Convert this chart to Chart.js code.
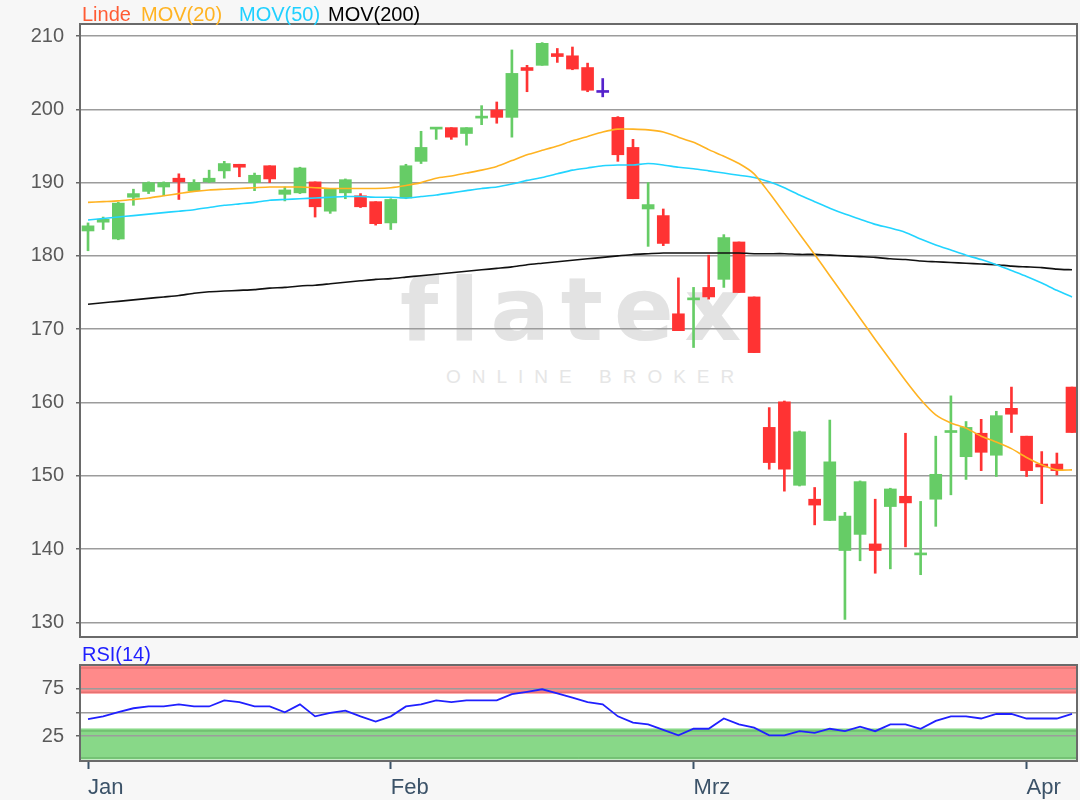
<!DOCTYPE html>
<html>
<head>
<meta charset="utf-8">
<title>Linde</title>
<script src="https://cdn.jsdelivr.net/npm/chart.js@4.4.1/dist/chart.umd.min.js"></script>
<style>
  body { margin: 0; background: #f7f7f7; font-family: "Liberation Sans", Arial, sans-serif; }
  #wrap { position: relative; width: 1080px; height: 800px; overflow: hidden; }
  #plotbg { position: absolute; left: 80px; top: 24px; width: 997px; height: 613px; background: #fff; }
  .wm { position: absolute; color: #e3e3e3; white-space: nowrap; }
  #wm1 { left: 400px; top: 258px; font: bold 88px "DejaVu Sans", sans-serif; letter-spacing: 11px; }
  #wm2 { left: 446px; top: 366px; font: 19px "Liberation Sans", Arial, sans-serif; letter-spacing: 11px; color: #e6e6e6; }
  canvas { position: absolute; left: 0; }
  .lg { position: absolute; top: 4px; font-size: 20px; line-height: 20px; white-space: nowrap; }
  #rsiTitle { position: absolute; left: 82px; top: 644px; font-size: 20px; line-height: 20px; color: #1f1fff; }
</style>
</head>
<body>
<div id="wrap">
  <div id="plotbg"></div>
  <div class="wm" id="wm1">flatex</div>
  <div class="wm" id="wm2">ONLINE BROKER</div>
  <canvas id="main" width="1080" height="645" style="top:0"></canvas>
  <canvas id="rsi" width="1080" height="155" style="top:645px"></canvas>
  <span class="lg" style="left:82px;color:#ff5b33">Linde</span>
  <span class="lg" style="left:141px;color:#ffb322">MOV(20)</span>
  <span class="lg" style="left:239px;color:#1fd0ff">MOV(50)</span>
  <span class="lg" style="left:328px;color:#000">MOV(200)</span>
  <div id="rsiTitle">RSI(14)</div>
</div>
<script>
// Kerzen (Tageswerte), von links nach rechts
const opens  = [183.4,184.6,182.3,188.0,188.8,189.4,190.6,188.9,190.1,191.6, 192.5,190.0,192.3,188.4,188.6,190.1,186.1,188.6,188.2,187.4,
                184.5,187.9,192.9,197.3,197.5,196.7,198.8,199.9,198.9,205.7, 206.0,207.6,207.3,205.7,202.3,198.9,194.8,186.4,185.5,172.1,
                174.0,175.7,176.8,181.9,174.4,156.6,160.1,148.7,146.8,143.9, 139.8,142.0,140.7,145.8,147.2,139.2,146.8,155.9,152.6,155.8,
                152.8,159.2,155.4,151.6,151.6,162.1];
const highs  = [184.5,185.3,187.3,189.1,190.1,190.1,191.2,190.4,191.7,192.9, 192.5,191.3,192.3,189.4,192.1,190.1,189.2,190.5,188.5,187.4,
                187.8,192.5,197.0,197.5,197.5,197.5,200.5,201.0,208.1,206.0, 209.1,208.3,208.5,206.3,204.2,199.0,195.9,190.0,186.4,177.0,
                175.7,180.1,182.9,181.9,174.4,159.3,160.2,156.1,148.4,157.6, 145.0,149.3,146.8,148.3,155.8,146.5,155.4,160.9,157.4,157.7,
                158.8,162.1,155.4,153.3,153.1,162.1];
const lows   = [180.7,183.6,182.2,186.9,188.5,188.2,187.7,188.9,190.0,190.6, 190.8,188.9,190.0,187.5,188.5,185.3,185.8,187.8,186.6,184.2,
                183.6,187.8,192.6,195.9,195.9,195.1,197.9,198.1,196.2,202.4, 206.0,206.4,205.4,202.4,201.7,192.9,187.8,181.3,181.4,169.8,
                167.5,174.1,175.7,175.0,166.8,150.9,147.9,148.6,143.3,143.9, 130.4,138.4,136.7,137.3,140.3,136.5,143.1,147.4,149.5,150.7,
                149.9,155.9,149.9,146.2,150.1,155.9];
const closes = [184.1,185.0,187.2,188.5,190.0,190.0,190.1,190.0,190.6,192.6, 192.1,191.0,190.5,189.0,192.0,186.7,189.1,190.4,186.7,184.4,
                187.7,192.3,194.8,197.4,196.2,197.5,199.0,198.9,204.9,205.3, 209.0,207.2,205.5,202.6,202.3,193.8,187.8,187.0,181.7,169.8,
                174.2,174.4,182.5,175.0,166.8,151.8,150.9,156.0,146.0,151.9, 144.5,149.2,139.8,148.2,146.3,139.4,150.2,156.1,156.6,153.2,
                158.2,158.4,150.7,151.2,150.7,155.9];

// gleitende Durchschnitte
const mov20  = [187.3,187.4,187.5,187.7,187.9,188.2,188.5,188.8,189.0,189.1, 189.2,189.3,189.4,189.4,189.4,189.3,189.2,189.2,189.2,189.2,
                189.3,189.6,190.0,190.6,190.9,191.3,191.7,192.2,193.0,193.8, 194.4,195.0,195.7,196.3,196.9,197.3,197.3,197.2,196.9,196.2,
                195.5,194.5,193.6,192.6,191.2,188.6,185.8,183.0,180.2,177.3, 174.4,171.5,168.6,165.8,163.0,160.4,158.3,157.2,156.5,155.4,
                154.6,153.7,152.5,151.5,150.8,150.8];
const mov50  = [184.9,185.1,185.3,185.5,185.7,185.9,186.1,186.3,186.6,186.9, 187.1,187.3,187.6,187.7,187.8,187.9,188.0,188.1,188.1,188.0,
                188.0,187.9,188.1,188.3,188.6,188.9,189.2,189.4,189.8,190.3, 190.7,191.2,191.7,192.0,192.3,192.4,192.4,192.6,192.4,192.1,
                191.9,191.6,191.3,191.0,190.7,190.1,189.3,188.3,187.4,186.5, 185.7,185.0,184.3,183.8,183.2,182.3,181.5,180.8,180.1,179.5,
                178.8,178.0,177.2,176.3,175.3,174.4];
const mov200 = [173.4,173.6,173.8,174.0,174.2,174.4,174.6,174.9,175.1,175.2, 175.3,175.4,175.6,175.7,175.9,176.0,176.2,176.4,176.6,176.8,
                176.9,177.1,177.3,177.5,177.7,177.9,178.1,178.3,178.5,178.8, 179.0,179.2,179.4,179.6,179.8,180.0,180.2,180.3,180.4,180.4,
                180.4,180.4,180.4,180.4,180.3,180.3,180.3,180.2,180.2,180.1, 180.0,179.9,179.8,179.6,179.5,179.3,179.2,179.1,179.0,178.9,
                178.8,178.6,178.5,178.4,178.2,178.1];

const rsi14  = [42.9,45.9,50.5,54.5,56.4,56.4,58.6,56.4,56.4,62.9, 61.0,56.4,56.4,50.2,58.6,45.9,49.5,52.0,45.9,40.4,
                45.9,56.4,58.6,62.9,61.1,62.9,62.9,62.9,69.5,72.0, 74.7,70.2,65.8,61.1,58.6,45.9,39.3,37.4,31.5,25.7,
                32.7,32.7,43.6,37.4,33.8,25.7,25.7,30.1,28.3,32.7, 30.1,34.9,30.1,37.4,37.4,32.7,41.1,45.9,45.9,43.6,
                48.4,48.4,43.6,43.6,43.6,48.4];

// Achsen
const monthLabels = ['Jan', 'Feb', 'Mrz', 'Apr'];
const monthStart = [0, 20, 40, 62];   // Index des ersten Handelstags im Monat
const priceTicks = [130, 140, 150, 160, 170, 180, 190, 200, 210];
const rsiTicks = [25, 50, 75];
const rsiBands = { oversold: [0, 33], overbought: [70, 100] };

Chart.defaults.font.family = '"Liberation Sans", Arial, sans-serif';

const candleColor = opens.map((o, i) => closes[i] > o ? '#66cc66' : (closes[i] < o ? '#ff3333' : '#5522cc'));
const pts = (arr) => arr.map((v, i) => ({ x: i, y: v }));
const xRange = { min: -0.53, max: 65.33 };

// feste Breite der y-Achse, keine Zusatzränder durch Beschriftungen
const fixY = (s) => { s.width = 80; s.paddingTop = 0; s.paddingBottom = 0; };

const frame = {
    id: 'frame',
    afterDatasetsDraw(chart) {
        const { ctx, chartArea: a } = chart;
        ctx.save();
        ctx.strokeStyle = '#6a6a6a';
        ctx.lineWidth = 2;
        ctx.strokeRect(a.left, a.top, a.right - a.left, a.bottom - a.top);
        ctx.restore();
    }
};

const bands = {
    id: 'bands',
    beforeDraw(chart) {
        const { ctx, chartArea: a, scales } = chart;
        const y = scales.y;
        ctx.save();
        ctx.fillStyle = '#fff';
        ctx.fillRect(a.left, a.top, a.right - a.left, a.bottom - a.top);
        const fill = (band, color, edge) => {
            const top = Math.max(y.getPixelForValue(band[1]), a.top);
            const bot = Math.min(y.getPixelForValue(band[0]), a.bottom);
            ctx.fillStyle = color;
            ctx.fillRect(a.left, top, a.right - a.left, bot - top);
            ctx.strokeStyle = edge;
            ctx.lineWidth = 1;
            ctx.beginPath();
            ctx.moveTo(a.left, top + 2.5); ctx.lineTo(a.right, top + 2.5);
            ctx.moveTo(a.left, bot - 1.5); ctx.lineTo(a.right, bot - 1.5);
            ctx.stroke();
        };
        fill(rsiBands.overbought, '#ff8a8a', 'rgba(170,60,60,0.45)');
        fill(rsiBands.oversold, '#88d888', 'rgba(50,120,50,0.45)');
        ctx.restore();
    }
};

new Chart(document.getElementById('main'), {
    type: 'bar',
    data: {
        datasets: [
            { type: 'line', label: 'MOV(20)', data: pts(mov20), borderColor: '#ffb322', borderWidth: 1.6, pointRadius: 0, tension: 0.2, order: 0 },
            { type: 'line', label: 'MOV(50)', data: pts(mov50), borderColor: '#22d4ff', borderWidth: 1.6, pointRadius: 0, tension: 0.2, order: 0 },
            { type: 'line', label: 'MOV(200)', data: pts(mov200), borderColor: '#111111', borderWidth: 1.6, pointRadius: 0, tension: 0.2, order: 0 },
            { label: 'Docht', data: lows.map((l, i) => ({ x: i, y: [l, highs[i]] })), backgroundColor: candleColor,
              barThickness: 2, grouped: false, order: 2 },
            { label: 'Linde', data: opens.map((o, i) => ({ x: i, y: [o, closes[i]] })), backgroundColor: candleColor,
              barThickness: 12, minBarLength: 2, grouped: false, order: 1 }
        ]
    },
    options: {
        responsive: false,
        animation: false,
        devicePixelRatio: 1,
        layout: { padding: { top: 24, right: 3, bottom: 8, left: 0 } },
        plugins: { legend: { display: false }, tooltip: { enabled: false } },
        scales: {
            x: { type: 'linear', ...xRange, display: false, offset: false, grid: { offset: false } },
            y: {
                min: 128, max: 211.64, beginAtZero: false,
                afterFit: fixY,
                afterBuildTicks: (s) => { s.ticks = priceTicks.map(v => ({ value: v })); },
                ticks: { color: '#5a5a5a', font: { size: 20 }, padding: 12 },
                grid: { color: '#9c9c9c', lineWidth: 1.5, tickLength: 4, tickColor: '#666' },
                border: { display: false }
            }
        }
    },
    plugins: [frame]
});

new Chart(document.getElementById('rsi'), {
    type: 'line',
    data: {
        datasets: [{ label: 'RSI(14)', data: pts(rsi14), borderColor: '#2020ff', borderWidth: 1.8, pointRadius: 0, tension: 0 }]
    },
    options: {
        responsive: false,
        animation: false,
        devicePixelRatio: 1,
        layout: { padding: { top: 20, right: 3, bottom: 0, left: 0 } },
        plugins: { legend: { display: false }, tooltip: { enabled: false } },
        scales: {
            x: {
                type: 'linear', ...xRange, offset: false,
                afterFit: (s) => { s.height = 39; },
                afterBuildTicks: (s) => { s.ticks = monthStart.map(v => ({ value: v })); },
                ticks: { autoSkip: false, maxRotation: 0, align: 'start', color: '#3b5268', font: { size: 22 }, padding: 6,
                         callback: (v, i) => monthLabels[i] },
                grid: { drawOnChartArea: false, offset: false, tickLength: 8, tickColor: '#3b5268', tickWidth: 2 },
                border: { display: false }
            },
            y: {
                min: -1.6, max: 100.5,
                afterFit: fixY,
                afterBuildTicks: (s) => { s.ticks = rsiTicks.map(v => ({ value: v })); },
                ticks: { color: '#5a5a5a', font: { size: 20 }, padding: 12, callback: (v) => v === 50 ? '' : String(v) },
                grid: { color: '#9c9c9c', lineWidth: 1.5, tickLength: 4, tickColor: '#666' },
                border: { display: false }
            }
        }
    },
    plugins: [bands, frame]
});
</script>
</body>
</html>
